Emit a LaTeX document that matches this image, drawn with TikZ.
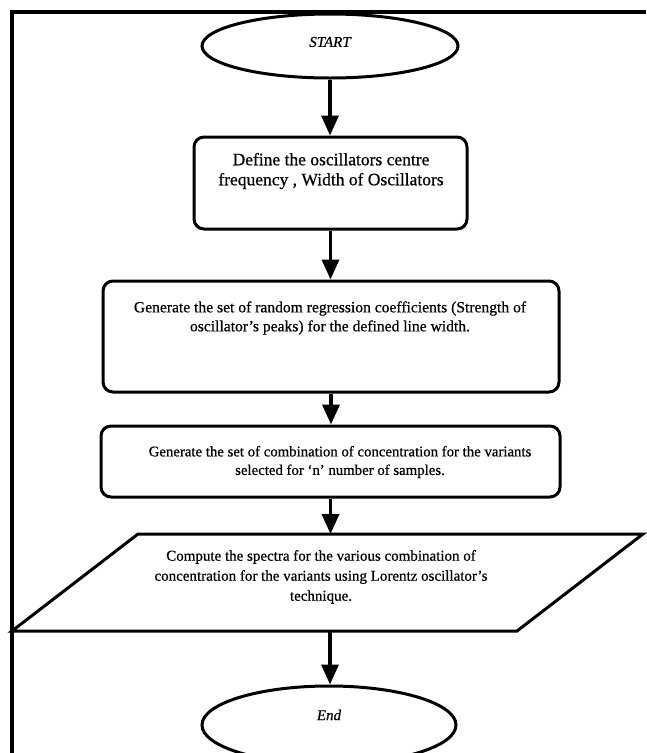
\documentclass[tikz,border=0pt]{standalone}
\usepackage{fontspec}
\setmainfont{Liberation Serif}
\newfontfamily\embfont{Liberation Serif}[FakeBold=0.6]
\usetikzlibrary{shapes.geometric,arrows.meta}
\begin{document}
\begin{tikzpicture}[x=1pt,y=-1pt,
  shapeline/.style={draw=black,line width=3pt},
  boxnode/.style={shapeline,rounded corners=10pt,inner sep=0pt},
  termnode/.style={shapeline,ellipse,inner sep=0pt},
  txt/.style={align=center,inner sep=0pt},
  flow/.style={line width=3.5pt,-{Triangle[length=20pt,width=17pt]}}
]
\useasboundingbox (0,0) rectangle (646,753);
\fill[white] (0,0) rectangle (646,753);
% frame
\coordinate (frTR) at (646,12);
\coordinate (frTL) at (12,12);
\coordinate (frBL) at (12,753);
\draw[line width=3.5pt] (frTR) -- (frTL) -- (frBL);

% start
\node[termnode,minimum width=256pt,minimum height=64pt] (start) at (330,46) {};
\node[txt,font=\embfont\fontsize{15}{19}\selectfont\itshape] (starttxt) at (330,42) {START};

% box 1
\node[boxnode,minimum width=273pt,minimum height=92pt] (b1) at (330.5,183) {};
\node[txt,font=\embfont\fontsize{17.5}{20}\selectfont] (t1) at (331,171) {Define the oscillators centre\\frequency , Width of Oscillators};

% box 2
\node[boxnode,minimum width=456pt,minimum height=111pt] (b2) at (331,336.5) {};
\node[txt,font=\embfont\fontsize{15.6}{19}\selectfont] (t2) at (330,318) {Generate the set of random regression coefficients (Strength of\\oscillator’s peaks) for the defined line width.};

% box 3
\node[boxnode,minimum width=459pt,minimum height=71pt] (b3) at (330.5,461.5) {};
\node[txt,font=\embfont\fontsize{14.8}{18.5}\selectfont] (t3) at (340,462) {Generate the set of combination of concentration for the variants\\selected for ‘n’ number of samples.};

% parallelogram
\coordinate (pTL) at (138,534);
\coordinate (pTR) at (643,534);
\coordinate (pBR) at (517,631);
\coordinate (pBL) at (12,631);
\coordinate (pT) at (330,534);
\coordinate (pB) at (330,631);
\draw[shapeline] (pBL) -- (pTL) -- (pTR) -- (pBR) -- cycle;
\node[txt,font=\embfont\fontsize{15}{20}\selectfont] (t4) at (321,577) {Compute the spectra for the various combination of\\concentration for the variants using Lorentz oscillator’s\\technique.};

% end
\node[termnode,minimum width=254pt,minimum height=78pt] (endnode) at (329,725) {};
\node[txt,font=\embfont\fontsize{15}{19}\selectfont\itshape] (endtxt) at (329,715) {End};

% connectors
\draw[flow] (start.south) -- (start.south |- b1.north);
\draw[flow] (b1.south) -- (b1.south |- b2.north);
\draw[flow] (b2.south) -- (b2.south |- b3.north);
\draw[flow] (b3.south) -- (b3.south |- pT);
\draw[flow] (pB) -- (pB |- endnode.north);
\end{tikzpicture}
\end{document}
